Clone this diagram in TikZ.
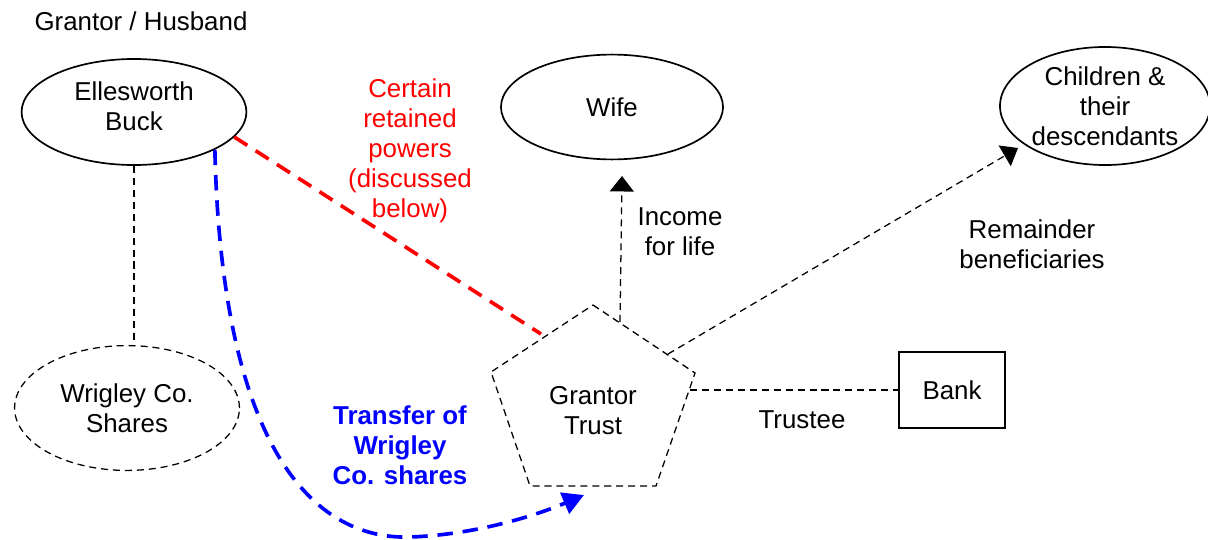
\documentclass[tikz,border=0pt]{standalone}
\usepackage{fontspec}
\setmainfont{Liberation Sans}
\usetikzlibrary{arrows.meta, shapes.geometric, positioning}

\begin{document}
\begin{tikzpicture}[x=0.025cm, y=-0.025cm,
                   every node/.style={font=\fontsize{18.4}{21.3}\selectfont, align=center},
                   party/.style={ellipse, draw, line width=1.2pt, inner sep=0pt},
                   asset/.style={ellipse, draw, line width=0.9pt, inner sep=0pt,
                                 dash pattern=on 5pt off 3.5pt},
                   thin dash/.style={line width=0.9pt, dash pattern=on 5pt off 3.5pt},
                   thick dash/.style={line width=2.6pt, dash pattern=on 11pt off 7pt},
                   tip/.style={-{Triangle[length=11pt,width=17pt]}}]
\useasboundingbox (0,0) rectangle (1208,539);

\node (grantor) at (141,21) {Grantor / Husband};
\node[party, minimum width=5.62cm, minimum height=2.65cm, text depth=9pt] (buck) at (134,112) {Ellesworth\\Buck};
\node[party, minimum width=5.55cm, minimum height=2.62cm] (wife)     at (612,107)  {Wife};
\node[party, minimum width=5.25cm, minimum height=2.95cm] (children) at (1105,106) {Children \&\\their\\descendants};
\node[asset, minimum width=5.62cm, minimum height=3.12cm] (shares)   at (127,408)  {Wrigley Co.\\Shares};
\node[draw, line width=1.2pt, minimum width=2.65cm, minimum height=1.9cm] (bank) at (952,390) {Bank};

%% the trust (pentagon)
\coordinate (p1) at (593,305);
\coordinate (p2) at (695,373);
\coordinate (p3) at (656,486);
\coordinate (p4) at (530,486);
\coordinate (p5) at (491,372);
\draw[thin dash] (p1) -- (p2) -- (p3) -- (p4) -- (p5) -- cycle;
\node (trust) at (593,411) {Grantor\\Trust};

\coordinate (redend)  at (541,334);
\coordinate (incbot)  at (620,322);
\coordinate (inctop)  at (622,176);
\coordinate (remstart) at (668,354);
\coordinate (remend)  at (1018,148);
\coordinate (tstart)  at (690,390);
\coordinate (blueend) at (584,495);

%% connectors
\draw[thin dash] (buck.south) -- (buck.south |- shares.north);
\draw[thick dash, red] (buck.-14) -- (redend);
\draw[thick dash, blue, -{Triangle[length=15pt,width=16pt]}]
  (buck.-25) .. controls (222,460) and (320,540) .. (410,537)
  .. controls (470,535) and (530,518) .. (blueend);
\draw[thin dash, tip] (incbot) -- (inctop);
\draw[thin dash, tip] (remstart) -- (remend);
\draw[thin dash] (tstart) -- (bank.west);

%% labels
\node[red] (powers) at (410,151) {Certain\\retained\\powers\\(discussed\\below)};
\node[blue, font=\fontsize{18.4}{21.3}\selectfont\bfseries] (transfer) at (400,445) {Transfer of\\Wrigley\\Co. shares};
\node (income)  at (680,232)  {Income\\for life};
\node (remain)  at (1032,244) {Remainder\\beneficiaries};
\node (trustee) at (802,420)  {Trustee};
\end{tikzpicture}
\end{document}
